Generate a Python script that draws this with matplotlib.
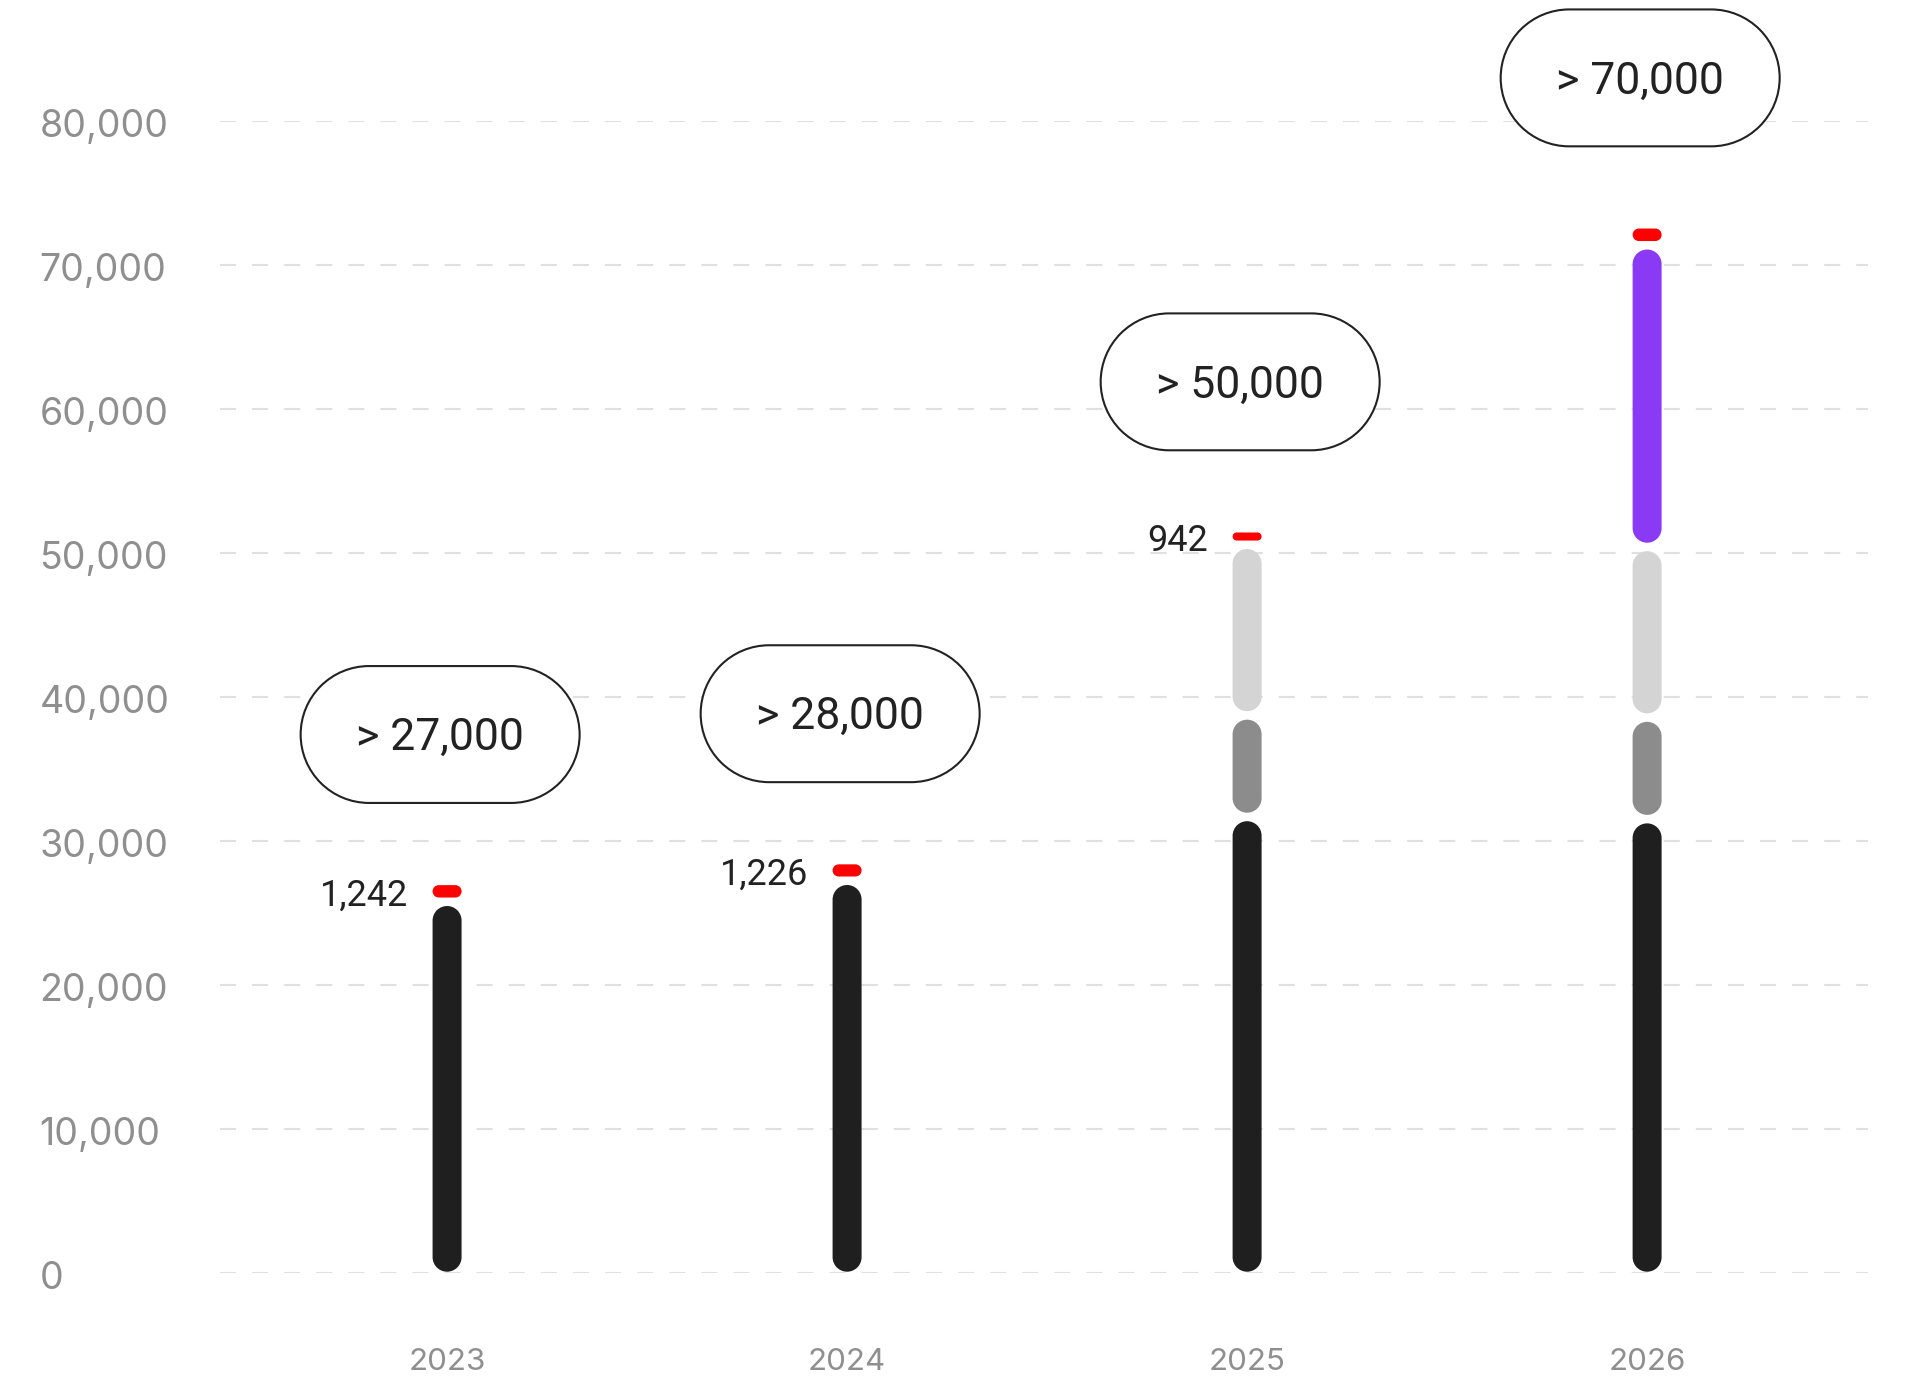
import numpy as np
import matplotlib.pyplot as plt
import matplotlib.transforms as mtransforms
from matplotlib.patches import FancyBboxPatch
from matplotlib.path import Path

plt.rcParams['font.family'] = ['Inter', 'DejaVu Sans']
label_font = ['Roboto', 'DejaVu Sans']

years = ['2023', '2024', '2025', '2026']
black = [25760, 27220, 31650, 31500]
dark_gray = [0, 0, 7050, 7050]
light_gray = [0, 0, 11850, 11850]
purple = [0, 0, 0, 20950]
red = [1242, 1226, 942, 1250]
red_labelled = [True, True, True, False]
totals_text = ['> 27,000', '> 28,000', '> 50,000', '> 70,000']
y_ticks = [0, 10000, 20000, 30000, 40000, 50000, 60000, 70000, 80000]

stacks = [black, dark_gray, light_gray, purple, red]
stack_colors = ['#1f1f1f', '#8c8c8c', '#d4d4d4', '#8a3af5', '#ff0000']
ink = '#222222'
muted = '#8f8f8f'

fig = plt.figure(figsize=(19.17, 13.78), dpi=100)
ax = fig.add_axes([0.1148, 0.0764, 0.8597, 0.8360])
ax.set_xlim(-0.5675, 3.5525)
ax.set_ylim(0, 80000)

# pixel size of one data unit, so the rounded ends stay circular
x0p, y0p = ax.transData.transform((0, 0))
x1p, y1p = ax.transData.transform((1, 1))
px_x = x1p - x0p
px_y = y1p - y0p
aspect = px_x / px_y

bar_w = 29 / px_x
gap = 4.25 / px_y
end_gap = 1.25 / px_y


def capsule(x0, y0, width, height, mutation_size=1):
    # stadium shape: straight sides joined by two true half circles
    r = min(width, height) / 2
    x1, y1 = x0 + width, y0 + height
    if width >= height:
        a = Path.arc(-90, 90)
        b = Path.arc(90, 270)
        va = a.vertices * r + [x1 - r, y0 + r]
        vb = b.vertices * r + [x0 + r, y0 + r]
    else:
        a = Path.arc(0, 180)
        b = Path.arc(180, 360)
        va = a.vertices * r + [x0 + r, y1 - r]
        vb = b.vertices * r + [x0 + r, y0 + r]
    cb = b.codes.copy()
    cb[0] = Path.LINETO
    verts = np.vstack([va, vb, va[:1]])
    codes = np.concatenate([a.codes, cb, [Path.CLOSEPOLY]])
    return Path(verts, codes)


def pill(x0, y0, width, height, mutation_size):
    # wide capsule around the text, fixed height
    hpad = 1.25 * mutation_size
    h = 3.08 * mutation_size
    cy = y0 + height / 2 + 0.08 * mutation_size
    return capsule(x0 - hpad, cy - h / 2, width + 2 * hpad, h)


for i, yr in enumerate(years):
    parts = [(s[i], c) for s, c in zip(stacks, stack_colors) if s[i] > 0]
    base = 0
    for j, (val, c) in enumerate(parts):
        lo = base + (gap if j > 0 else end_gap * 0.8)
        hi = base + val - (gap if j < len(parts) - 1 else end_gap)
        ax.add_patch(FancyBboxPatch((i - bar_w / 2, lo), bar_w, hi - lo,
                                    boxstyle=capsule, mutation_aspect=aspect,
                                    fc=c, ec='none', zorder=3))
        base += val
    top = base

    if red_labelled[i]:
        ax.annotate(f'{red[i]:,}', xy=(i, top - red[i] / 2), xytext=(-27.9, -9.2),
                    textcoords='offset points', ha='right', va='baseline',
                    fontsize=26, color=ink, family=label_font, annotation_clip=False)

    ax.annotate(totals_text[i], xy=(i, top), xytext=(-5, 105),
                textcoords='offset points', ha='center', va='center',
                fontsize=32, color=ink, family=label_font, zorder=5,
                annotation_clip=False,
                bbox=dict(boxstyle=pill, fc='white', ec=ink, lw=1.5))

ax.set_yticks(y_ticks)
ax.set_yticklabels([f'{v:,}' for v in y_ticks], fontsize=27, color=muted)
ax.set_xticks(range(len(years)))
ax.set_xticklabels(years, fontsize=22.5, color=muted)
ax.tick_params(axis='y', length=0, pad=130)
ax.tick_params(axis='x', length=0, pad=54)

# y labels sit left-aligned, a little below their grid line
nudge = mtransforms.ScaledTranslation(0, -0.06, fig.dpi_scale_trans)
for lbl in ax.get_yticklabels():
    lbl.set_horizontalalignment('left')
    lbl.set_verticalalignment('center')
    lbl.set_transform(lbl.get_transform() + nudge)

ax.set_axisbelow(True)
ax.yaxis.grid(True, color='#e0e0e0', lw=1.5, linestyle=(0, (7.7, 7.7)))
for sp in ax.spines.values():
    sp.set_visible(False)

fig.savefig('out.png', dpi=100, facecolor='white')
